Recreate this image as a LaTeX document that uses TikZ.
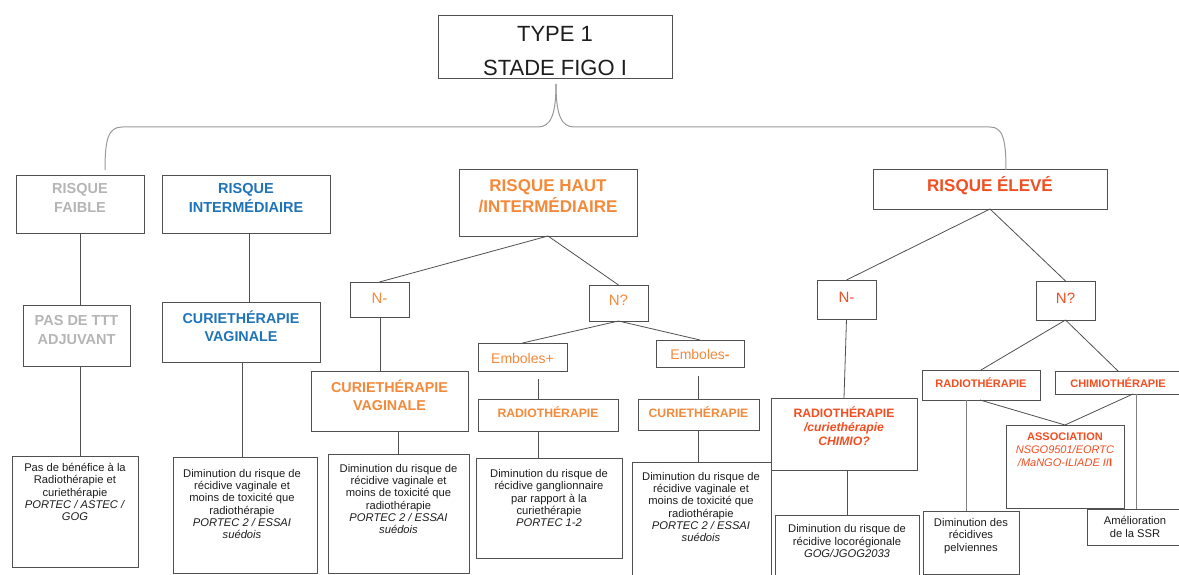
\documentclass[tikz,border=0pt]{standalone}
\usepackage{fontspec}
\setmainfont{Liberation Sans}
\definecolor{cgray}{HTML}{B5B5B5}
\definecolor{cblue}{HTML}{1F73B7}
\definecolor{corange}{HTML}{F5893A}
\definecolor{cred}{HTML}{F24E22}
\definecolor{cline}{HTML}{505050}
\definecolor{ctext}{HTML}{1E1E1E}
\newcommand\mkbox[5]{\node[box, minimum width={#4-#2}, minimum height={#5-#3}, anchor=north west] (#1) at (#2,#3) {};}
\tikzset{
  box/.style={draw=cline, line width=0.9pt, inner sep=0pt, outer sep=0pt, fill=none},
  lbl/.style={align=center, inner sep=0pt},
  conn/.style={draw=cline, line width=0.8pt},
  bracel/.style={draw=gray!80, line width=1pt},
  ftop/.style={font=\fontsize{22}{34}\selectfont, text=ctext},
  frisk/.style={font=\bfseries\fontsize{14.5}{19}\selectfont},
  fbig/.style={font=\bfseries\fontsize{17}{21}\selectfont},
  fcur/.style={font=\bfseries\fontsize{14.3}{18}\selectfont},
  fn/.style={font=\fontsize{15}{17}\selectfont},
  femb/.style={font=\fontsize{14}{16}\selectfont},
  fsb/.style={font=\bfseries\fontsize{12.2}{14}\selectfont},
  fsb2/.style={font=\bfseries\fontsize{11}{13}\selectfont},
  fbody/.style={font=\fontsize{11.2}{12.2}\selectfont, text=ctext},
}
\begin{document}
\begin{tikzpicture}[x=1pt,y=-1pt]
\clip (0,0) rectangle (1179,575);
\fill[white] (0,0) rectangle (1179,575);
% boxes
\mkbox{top}{438}{15}{672}{78}
\mkbox{faible}{16}{175}{144}{233}
\mkbox{inter}{162}{175}{330}{233}
\mkbox{haut}{459}{169}{637}{236}
\mkbox{eleve}{873}{169}{1107}{209}
\mkbox{pas}{23}{305}{130}{366}
\mkbox{curieB}{162}{302}{320}{362}
\mkbox{Na}{350}{282}{409}{317}
\mkbox{Nqa}{589}{285}{648}{321}
\mkbox{embp}{478}{343}{567}{371}
\mkbox{embm}{656}{340}{744}{367}
\mkbox{curieO}{311}{371}{468}{431}
\mkbox{radioO}{478}{399}{618}{431}
\mkbox{curieOt}{638}{399}{759}{430}
\mkbox{tA}{12}{456}{138}{567}
\mkbox{tB}{173}{457}{317}{573}
\mkbox{tC}{328}{454}{469}{573}
\mkbox{tD}{476}{458}{622}{558}
\mkbox{tE}{632}{462}{771}{590}
\mkbox{Nb}{817}{280}{876}{319}
\mkbox{Nqb}{1036}{281}{1095}{320}
\mkbox{radioR}{922}{370}{1040}{400}
\mkbox{chimio}{1055}{371}{1190}{394}
\mkbox{radioC}{771}{398}{917}{470}
\mkbox{assoc}{1006}{425}{1124}{508}
\mkbox{tLoc}{775}{515}{919}{590}
\mkbox{tPel}{923}{511}{1019}{574}
\mkbox{tSSR}{1087}{509}{1190}{545}
% texts
\node[lbl, ftop] (top-t) at (555,51) {TYPE 1\\STADE FIGO I};
\node[lbl, frisk, text=cgray] (faible-t) at (80,198) {RISQUE\\FAIBLE};
\node[lbl, frisk, text=cblue] (inter-t) at (246,198) {RISQUE\\INTERMÉDIAIRE};
\node[lbl, fbig, text=corange] (haut-t) at (548,196) {RISQUE HAUT\\/INTERMÉDIAIRE};
\node[lbl, fbig, text=cred] (eleve-t) at (990,186) {RISQUE ÉLEVÉ};
\node[lbl, frisk, text=cgray] (pas-t) at (76.5,330) {PAS DE TTT\\ADJUVANT};
\node[lbl, fcur, text=cblue] (curieB-t) at (241,326) {CURIETHÉRAPIE\\VAGINALE};
\node[lbl, fn, text=corange] (Na-t) at (379.5,298) {N-};
\node[lbl, fn, text=corange] (Nqa-t) at (618.5,300) {N?};
\node[lbl, femb, text=corange] (embp-t) at (522.5,358) {Emboles+};
\node[lbl, femb, text=corange] (embm-t) at (700,354) {Emboles\textbf{-}};
\node[lbl, fcur, text=corange] (curieO-t) at (389.5,395) {CURIETHÉRAPIE\\VAGINALE};
\node[lbl, fsb, text=corange] (radioO-t) at (548,412) {RADIOTHÉRAPIE};
\node[lbl, fsb, text=corange] (curieOt-t) at (698.5,412) {CURIETHÉRAPIE};
\node[lbl, fbody] (tA-t) at (75,492) {Pas de bénéfice à la\\Radiothérapie et\\curiethérapie\\\textit{PORTEC / ASTEC /}\\\textit{GOG}};
\node[lbl, fbody] (tB-t) at (242,504) {Diminution du risque de\\récidive vaginale et\\moins de toxicité que\\radiothérapie\\\textit{PORTEC 2 / ESSAI}\\\textit{suédois}};
\node[lbl, fbody] (tC-t) at (398.5,499) {Diminution du risque de\\récidive vaginale et\\moins de toxicité que\\radiothérapie\\\textit{PORTEC 2 / ESSAI}\\\textit{suédois}};
\node[lbl, fbody] (tD-t) at (549,498) {Diminution du risque de\\récidive ganglionnaire\\par rapport à la\\curiethérapie\\\textit{PORTEC 1-2}};
\node[lbl, fbody] (tE-t) at (701,507) {Diminution du risque de\\récidive vaginale et\\moins de toxicité que\\radiothérapie\\\textit{PORTEC 2 / ESSAI}\\\textit{suédois}};
\node[lbl, fn, text=cred] (Nb-t) at (846.5,297) {N-};
\node[lbl, fn, text=cred] (Nqb-t) at (1065.5,298) {N?};
\node[lbl, fsb2, text=cred] (radioR-t) at (981,383) {RADIOTHÉRAPIE};
\node[lbl, fsb2, text=cred] (chimio-t) at (1118,383) {CHIMIOTHÉRAPIE};
\node[lbl, fsb, text=cred] (radioC-t) at (844,426) {RADIOTHÉRAPIE\\\textit{/curiethérapie}\\\textit{CHIMIO?}};
\node[lbl, font=\fontsize{11}{13}\selectfont, text=cred] (assoc-t) at (1065,450) {\textbf{ASSOCIATION}\\\textit{NSGO9501/EORTC}\\\textit{/MaNGO-ILIADE II}\textbf{I}};
\node[lbl, fbody] (tLoc-t) at (847,541) {Diminution du risque de\\récidive locorégionale\\\textit{GOG/JGOG2033}};
\node[lbl, fbody] (tPel-t) at (971,536) {Diminution des\\récidives\\pelviennes};
\node[lbl, fbody] (tSSR-t) at (1135,527) {Amélioration\\de la SSR};
% brace
\coordinate (tip) at (556,84);
\coordinate (bl) at (105,170);
\coordinate (br) at (1006,170);
\draw[bracel] (bl) .. controls (105,140) and (108,127) .. (122,127) -- (538,127) .. controls (551,127) and (556,114) .. (tip);
\draw[bracel] (br) .. controls (1006,140) and (1003,127) .. (990,127) -- (574,127) .. controls (561,127) and (556,114) .. (tip);
% connectors
\draw[conn] (80,233) coordinate (c1) -- (c1 |- pas.north);
\draw[conn] (249,233) coordinate (c2) -- (c2 |- curieB.north);
\draw[conn] (80,366) coordinate (c3) -- (c3 |- tA.north);
\draw[conn] (242,362) coordinate (c4) -- (c4 |- tB.north);
\draw[conn] (haut.south) -- (Na.north);
\draw[conn] (haut.south) -- (Nqa.north);
\draw[conn] (380,317) coordinate (c5) -- (c5 |- curieO.north);
\draw[conn] (Nqa.south) -- (embp.north);
\draw[conn] (Nqa.south) -- (embm.north);
\draw[conn] (538,379) coordinate (c6) -- (c6 |- radioO.north);
\draw[conn] (698,376) coordinate (c7) -- (c7 |- curieOt.north);
\draw[conn] (398,431) coordinate (c8) -- (c8 |- tC.north);
\draw[conn] (538,431) coordinate (c9) -- (c9 |- tD.north);
\draw[conn] (698,430) coordinate (c10) -- (c10 |- tE.north);
\draw[conn] (eleve.south) -- (Nb.north);
\draw[conn] (eleve.south) -- (Nqb.north);
\draw[conn] (Nb.south) -- (radioC.north);
\draw[conn] (Nqb.south) -- (radioR.north);
\draw[conn] (Nqb.south) -- (1118,371) coordinate (c11);
\draw[conn] (980,400) coordinate (c12) -- (assoc.north);
\draw[conn] (1133,394) coordinate (c13) -- (assoc.north);
\draw[conn, draw=gray] (966,400) coordinate (c14) -- (c14 |- tPel.north);
\draw[conn, draw=gray] (1136,394) coordinate (c15) -- (c15 |- tSSR.north);
\draw[conn] (847,470) coordinate (c16) -- (c16 |- tLoc.north);
\end{tikzpicture}
\end{document}
